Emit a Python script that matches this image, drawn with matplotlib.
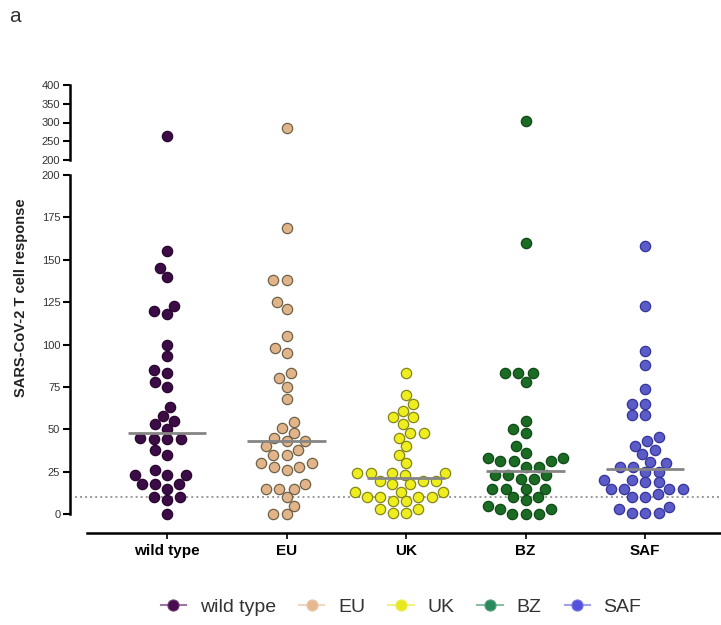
import numpy as np
import matplotlib
matplotlib.use("Agg")
import matplotlib.pyplot as plt
from matplotlib.lines import Line2D
from matplotlib.colors import to_rgb

plt.rcParams['font.family'] = ['Liberation Sans', 'DejaVu Sans']

categories = ["wild type", "EU", "UK", "BZ", "SAF"]

wild_type = [265, 155, 145, 140, 123, 120, 118, 100, 93, 85, 83, 78, 75, 63, 58, 55, 53, 50,
             45, 44, 44, 44, 38, 35, 26, 23, 23, 23, 18, 18, 18, 15, 10, 10, 8, 0]
eu = [285, 169, 138, 138, 125, 121, 105, 98, 95, 83, 80, 75, 68, 54, 51, 48, 45, 43, 43,
      40, 38, 35, 35, 30, 30, 28, 28, 26, 18, 15, 15, 15, 10, 5, 0, 0]
uk = [83, 70, 65, 61, 57, 57, 53, 48, 48, 45, 40, 35, 30, 24, 24, 24, 24, 23,
      19.5, 19.5, 19.5, 17.5, 17.5, 13, 13, 13, 10, 10, 10, 10, 7.5, 7.5, 3, 3, 0.5, 0.5]
bz = [305, 160, 83, 83, 83, 78, 55, 50, 48, 40, 36, 33, 33, 31, 31, 31, 28, 28,
      23, 23, 23, 20.5, 20.5, 15, 15, 15, 15, 10, 10, 8, 5, 3, 3, 0, 0, 0]
saf = [158, 123, 96, 88, 74, 65, 65, 58.5, 58.5, 45.7, 43.3, 40.4, 37.8, 35.4, 30.5, 30, 28, 28,
       25, 25, 20, 20, 18.7, 18.7, 15, 15, 15, 15, 12, 10, 10, 4.3, 2.8, 0.4, 0.4, 0.4]
series = [wild_type, eu, uk, bz, saf]

face_colors = ["#3c0c46", "#e2b48a", "#eeee1e", "#1c6b24", "#5c5cc8"]
edge_colors = ["#2a0530", "#6e6248", "#85851a", "#0e4a15", "#34349a"]
legend_colors = ["#4a0a50", "#e6b890", "#e8e820", "#2a8a5e", "#5252dc"]

threshold = 10
break_low, break_high = 200, 400

W, H = 721, 625
fig = plt.figure(figsize=(W / 100, H / 100), dpi=100)

def fx(px):
    return px / W

def fy(py):
    return (H - py) / H

left_px, right_px = 70, 721
ax = fig.add_axes([fx(left_px), fy(533), fx(right_px - left_px), (533 - 175) / H])
ax_top = fig.add_axes([fx(left_px), fy(160), fx(right_px - left_px), (160 - 85) / H])

xlim = (-0.812, 4.636)
for a in (ax, ax_top):
    a.set_xlim(*xlim)
    a.patch.set_alpha(0)
ax.set_ylim(-11.2, break_low)
ax_top.set_ylim(break_low, break_high)

for a in (ax, ax_top):
    a.spines['right'].set_visible(False)
    a.spines['top'].set_visible(False)
    a.spines['left'].set_linewidth(1.8)
ax.spines['left'].set_bounds(0, break_low)
ax_top.spines['left'].set_bounds(break_low, break_high)
ax_top.spines['bottom'].set_visible(False)
ax.spines['bottom'].set_linewidth(1.8)
ax.spines['bottom'].set_bounds(-0.67, xlim[1])

ax.set_yticks(np.arange(0, 201, 25))
ax_top.set_yticks(np.arange(200, 401, 50))
ax_top.set_xticks([])
ax.set_xticks(range(len(categories)))
ax.set_xticklabels(categories, fontweight='bold', fontsize=11)
for a in (ax, ax_top):
    a.tick_params(axis='y', length=5, width=1.5, labelsize=8, labelcolor='#333333', pad=2)
ax.tick_params(axis='x', length=4, width=1.2, pad=4)

# swarm layout computed in pixel space (wider horizontal than vertical spacing)
ppu = (right_px - left_px) / (xlim[1] - xlim[0])
dxs = 13.5   # horizontal spacing in px
yscale = dxs / 10.0

def swarm(ypx):
    ys = np.asarray(ypx) * yscale
    d = dxs
    xs = np.zeros(len(ys))
    placed = []
    for i in np.argsort(ys):
        y = ys[i]
        neigh = [(px, py) for px, py in placed if abs(py - y) < d]
        cands = [0.0]
        for px, py in neigh:
            dx = np.sqrt(d * d - (py - y) ** 2)
            cands += [px + dx, px - dx]
        cands.sort(key=lambda c: (abs(c), c))
        for c in cands:
            if all((c - px) ** 2 + (y - py) ** 2 >= d * d - 1e-6 for px, py in neigh):
                xs[i] = c
                break
        placed.append((xs[i], y))
    return xs

for i, vals in enumerate(series):
    v = np.array(vals, dtype=float)
    for a, mask in ((ax, v <= break_low), (ax_top, v > break_low)):
        sub = v[mask]
        if len(sub) == 0:
            continue
        ypx = a.transData.transform(np.column_stack([np.zeros(len(sub)), sub]))[:, 1]
        xo = swarm(ypx) / ppu
        a.scatter(i + xo, sub, s=55, facecolor=face_colors[i], edgecolor=edge_colors[i],
                  linewidth=0.9, zorder=3, clip_on=False)
    med = np.median(v)
    ax.hlines(med, i - 0.33, i + 0.33, color='#858585', lw=2, zorder=4)

ax.axhline(threshold, xmin=5 / (right_px - left_px), xmax=1, color='#9a9a9a', lw=1.4,
           linestyle=(0, (1, 1.6)), zorder=1)

fig.text(fx(21), fy(298), "SARS-CoV-2 T cell response", rotation=90, ha='center', va='center',
         fontsize=10.5, fontweight='bold', color='#222222')
fig.text(fx(15), fy(17), "a", ha='center', va='center', fontsize=15, color='#333333')

def lighten(c, f=0.45):
    r, g, b = to_rgb(c)
    return (r + (1 - r) * f, g + (1 - g) * f, b + (1 - b) * f)

handles = [Line2D([0], [0], color=lighten(c), lw=1.5, marker='o', markersize=8,
                  markerfacecolor=c, markeredgecolor=lighten(c, 0.2), markeredgewidth=0.8)
           for c in legend_colors]
fig.legend(handles, categories, loc='center', bbox_to_anchor=(fx(401), fy(607)), ncol=5,
           frameon=False, fontsize=14, handlelength=1.3, handletextpad=0.7, columnspacing=1.2,
           labelcolor='#333333')

fig.savefig("out.png", dpi=100)
